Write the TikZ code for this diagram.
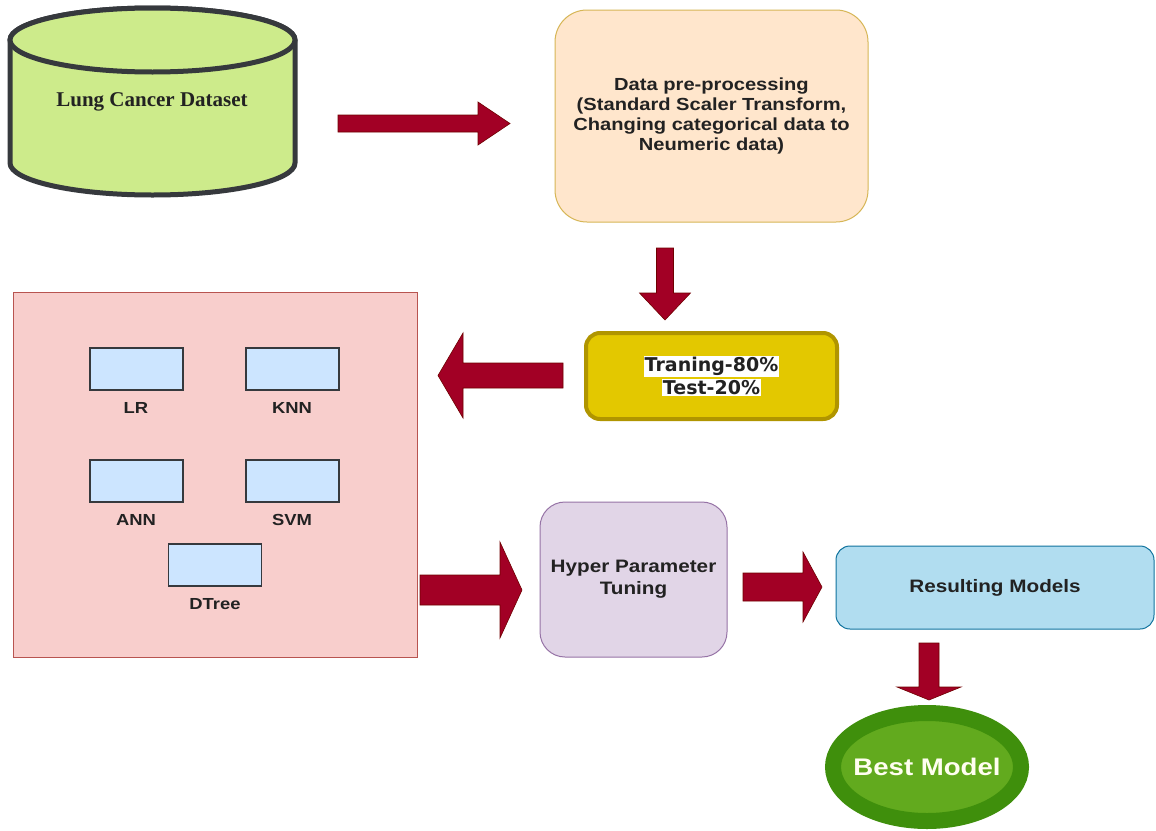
\documentclass[tikz,border=0pt]{standalone}
\usepackage{fontspec}
\usetikzlibrary{shapes.geometric}
\newfontfamily\lsans[FakeStretch=1.15]{Liberation Sans}
\newfontfamily\lserif{Liberation Serif}
\newfontfamily\dvs{DejaVu Sans}
\definecolor{arrowred}{HTML}{A20025}
\definecolor{arrowedge}{HTML}{6F0000}
\definecolor{cylfill}{HTML}{CDEB8B}
\definecolor{cyledge}{HTML}{36393D}
\definecolor{prefill}{HTML}{FFE6CC}
\definecolor{preedge}{HTML}{D6B656}
\definecolor{trainfill}{HTML}{E3C800}
\definecolor{trainedge}{HTML}{B09500}
\definecolor{pinkfill}{HTML}{F8CECC}
\definecolor{pinkedge}{HTML}{B85450}
\definecolor{modfill}{HTML}{CCE5FF}
\definecolor{hypfill}{HTML}{E1D5E7}
\definecolor{hypedge}{HTML}{9673A6}
\definecolor{resfill}{HTML}{B1DDF0}
\definecolor{resedge}{HTML}{10739E}
\definecolor{bestring}{HTML}{3F8F0C}
\definecolor{bestfill}{HTML}{62AA1E}
\definecolor{txt}{HTML}{222222}
\newcommand\harrowshape[6]{%
  \path[blockarrow] ({#1},{#4-#5}) -- ({#2},{#4-#5}) -- ({#2},{#4-#6}) -- ({#3},{#4})
    -- ({#2},{#4+#6}) -- ({#2},{#4+#5}) -- ({#1},{#4+#5}) -- cycle;}
\newcommand\varrowshape[6]{%
  \path[blockarrow] ({#1-#5},{#2}) -- ({#1-#5},{#3}) -- ({#1-#6},{#3}) -- ({#1},{#4})
    -- ({#1+#6},{#3}) -- ({#1+#5},{#3}) -- ({#1+#5},{#2}) -- cycle;}
\begin{document}
\begin{tikzpicture}[x=1pt,y=-1pt,
  blockarrow/.style={fill=arrowred,draw=arrowedge,line width=0.6pt},
  modelbox/.style={draw=cyledge,fill=modfill,line width=1.3pt,minimum width=93pt,minimum height=42pt,inner sep=0pt},
  modlabel/.style={font=\lsans\bfseries\fontsize{16}{18}\selectfont,text=txt},
  sanslabel/.style={font=\lsans\bfseries\fontsize{18}{22}\selectfont,text=txt,align=center}]
\useasboundingbox (0,0) rectangle (1156,830);
\fill[white] (0,0) rectangle (1156,830);
% cylinder
\path[fill=cylfill,draw=cyledge,line width=5pt,line join=round]
  (10,40) -- (10,163) arc[start angle=180,end angle=0,x radius=142.5,y radius=32]
  -- (295,40) arc[start angle=0,end angle=-180,x radius=142.5,y radius=32] -- cycle;
\draw[fill=cylfill,draw=cyledge,line width=5pt] (152.5,40) ellipse[x radius=142.5,y radius=32];
\node[font=\lserif\bfseries\fontsize{21}{24}\selectfont,text=txt] (cyl) at (152,102) {Lung Cancer Dataset};
% preprocessing
\node[draw=preedge,fill=prefill,line width=1pt,rounded corners=32pt,minimum width=313pt,minimum height=212pt,
  sanslabel,font=\lsans\bfseries\fontsize{17.5}{20}\selectfont] (pre) at (711.5,116)
  {Data pre-processing\\(Standard Scaler Transform,\\Changing categorical data to\\Neumeric data)};
% training
\node[draw=trainedge,fill=trainfill,line width=4pt,rounded corners=14pt,minimum width=251pt,minimum height=86pt,
  font=\dvs\bfseries\fontsize{19}{23}\selectfont,text=txt,align=center,inner sep=0pt] (train) at (711.5,376)
  {\setlength{\fboxsep}{1pt}\colorbox{white}{Traning-80\%}\\\setlength{\fboxsep}{1pt}\colorbox{white}{Test-20\%}};
% models container
\node[draw=pinkedge,fill=pinkfill,line width=0.8pt,minimum width=404pt,minimum height=365pt,inner sep=0pt] (models) at (215,474.5) {};
\node[modelbox] (lr) at (136.5,369) {};
\node[modelbox] (knn) at (292.5,369) {};
\node[modelbox] (ann) at (136.5,481) {};
\node[modelbox] (svm) at (292.5,481) {};
\node[modelbox] (dtree) at (215,565) {};
\node[modlabel] (lrl) at (136,408) {LR};
\node[modlabel] (knnl) at (292,408) {KNN};
\node[modlabel] (annl) at (136,520) {ANN};
\node[modlabel] (svml) at (292,520) {SVM};
\node[modlabel] (dtreel) at (215,604) {DTree};
% hyper parameter
\node[draw=hypedge,fill=hypfill,line width=1pt,rounded corners=25pt,minimum width=187pt,minimum height=155pt,
  sanslabel] (hyp) at (633.5,579.5) {Hyper Parameter\\Tuning};
% results
\node[draw=resedge,fill=resfill,line width=1pt,rounded corners=14pt,minimum width=318pt,minimum height=83pt,
  sanslabel] (res) at (995,587.5) {Resulting Models};
% best model
\draw[fill=bestfill,draw=bestring,line width=16pt] (927,767) ellipse[x radius=94,y radius=54];
\node[font=\lsans\bfseries\fontsize{24}{28}\selectfont,text=white!94!yellow] (best) at (927,767) {Best Model};
% block arrows
\harrowshape{338}{478}{510}{123.5}{8.5}{21.5}
\varrowshape{665}{248}{293}{320}{8.5}{25.5}
\harrowshape{563}{463}{438}{375.5}{12.5}{42.5}
\harrowshape{420}{500}{522}{590}{15}{48}
\harrowshape{743}{803}{822}{587}{14}{35}
\varrowshape{929}{643}{687}{700}{10}{32}
\end{tikzpicture}
\end{document}
